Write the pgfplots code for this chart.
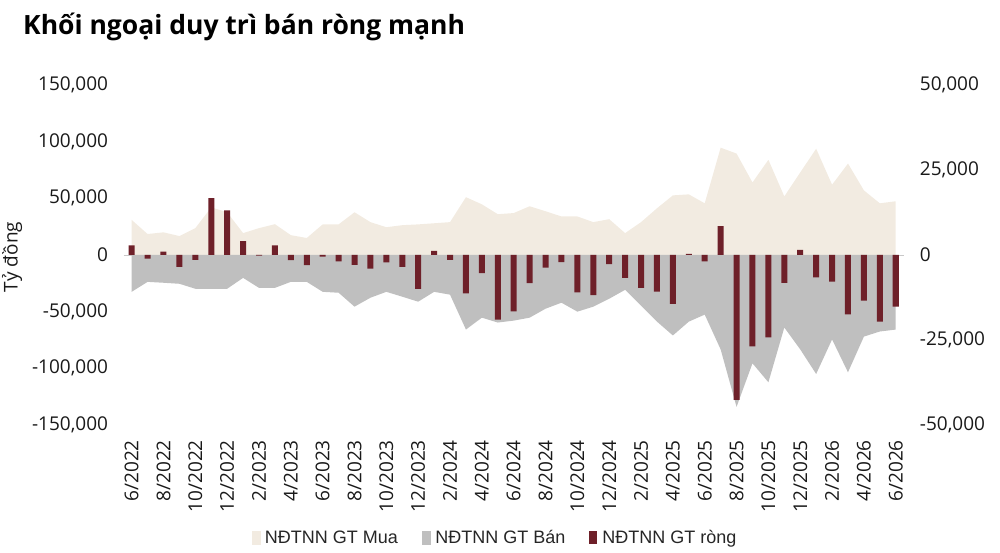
\documentclass[border=0pt]{standalone}
\usepackage{fontspec}
\setmainfont{Open Sans}
\newfontfamily\legfont{Liberation Sans}
\usepackage{pgfplots}
\pgfplotsset{compat=1.18}
\usepackage{pgfplotstable}
\definecolor{buy}{HTML}{F2EBE1}
\definecolor{sell}{HTML}{BFBFBF}
\definecolor{net}{HTML}{6E2029}
\definecolor{zl}{HTML}{C8C8C8}

\pgfplotstableread{
i buy sell net
0 31000 -32500 2800
1 18500 -23700 -1100
2 20000 -24500 1000
3 16700 -25400 -3500
4 23700 -29800 -1400
5 42000 -29800 16700
6 37700 -29800 13100
7 19300 -20200 4100
8 23700 -29000 -200
9 27200 -29000 2800
10 17500 -23700 -1500
11 15000 -23700 -3000
12 27000 -32500 -500
13 27000 -33300 -1900
14 37700 -45600 -2900
15 29000 -37700 -4000
16 24500 -32500 -2200
17 26300 -36800 -3500
18 27000 -41200 -10000
19 28000 -32500 1200
20 29000 -35000 -1400
21 51000 -65800 -11300
22 44700 -55300 -5300
23 36000 -59600 -19000
24 37000 -57900 -16600
25 43000 -55300 -8300
26 38600 -47400 -3700
27 34000 -42100 -2100
28 34000 -50000 -11000
29 29000 -45600 -11800
30 31600 -38600 -2700
31 19300 -30700 -6700
32 29000 -44700 -9700
33 41200 -58800 -10800
34 52600 -71000 -14400
35 53500 -58800 300
36 45600 -52600 -1900
37 94700 -83300 8500
38 89500 -134000 -42600
39 64000 -95600 -26900
40 84000 -112300 -24200
41 51700 -64000 -8200
42 72800 -83300 1500
43 93800 -105000 -6600
44 62000 -74500 -7800
45 80700 -103500 -17500
46 57000 -72000 -13400
47 45600 -67500 -19600
48 47400 -65800 -15200
}\data

\begin{document}
\begin{tikzpicture}[x=1pt,y=1pt]
\path[use as bounding box] (-123.7,-128) rectangle (876.3,425);
\begin{axis}[
  at={(0,0)}, anchor=south west, scale only axis,
  width=780pt, height=340pt,
  xmin=-0.5, xmax=48.5, ymin=-150000, ymax=150000,
  scaled ticks=false,
  axis line style={draw=none},
  major tick length=0pt,
  ytick={-150000,-100000,-50000,0,50000,100000,150000},
  yticklabels={{-150,000},{-100,000},{-50,000},0,{50,000},{100,000},{150,000}},
  yticklabel style={font=\fontsize{19}{22}\selectfont, inner sep=0pt, anchor=east, xshift=-15.5pt, text=black!90},
  xtick={0,2,...,48},
  xticklabels={6/2022,8/2022,10/2022,12/2022,2/2023,4/2023,6/2023,8/2023,10/2023,12/2023,2/2024,4/2024,6/2024,8/2024,10/2024,12/2024,2/2025,4/2025,6/2025,8/2025,10/2025,12/2025,2/2026,4/2026,6/2026},
  xticklabel style={font=\fontsize{19}{22}\selectfont, rotate=90, anchor=east, inner sep=0pt, text=black!90},
  xticklabel shift=15pt,
  axis y line*=left, axis x line*=bottom,
  extra y ticks={0}, extra y tick labels={},
  extra y tick style={grid=major, major grid style={zl, line width=0.8pt}},
  clip=false,
]
\addplot[fill=buy, draw=none] table[x=i,y=buy]{\data} \closedcycle;
\addplot[fill=sell, draw=none] table[x=i,y=sell]{\data} \closedcycle;
\end{axis}
\begin{axis}[
  at={(0,0)}, anchor=south west, scale only axis,
  width=780pt, height=340pt,
  xmin=-0.5, xmax=48.5, ymin=-50000, ymax=50000,
  scaled ticks=false,
  axis y line*=right, axis x line=none,
  axis line style={draw=none},
  major tick length=0pt,
  ytick={-50000,-25000,0,25000,50000},
  yticklabels={{-50,000},{-25,000},0,{25,000},{50,000}},
  yticklabel style={font=\fontsize{19}{22}\selectfont, inner sep=0pt, anchor=west, xshift=16pt, text=black!90},
  xtick=\empty,
  ybar, bar width=6pt,
  legend style={draw=none, fill=none, legend columns=3, at={(0.476,-0.332)}, anchor=center,
    font=\legfont\fontsize{18}{20}\selectfont, text=black!85,
    /tikz/every odd column/.append style={column sep=3pt},
    /tikz/every even column/.append style={column sep=22pt}},
  legend cell align=left,
]
\addlegendimage{legend image code/.code={\fill[buy] (0pt,-6.5pt) rectangle (8pt,6.5pt);}}
\addlegendentry{NĐTNN GT Mua}
\addlegendimage{legend image code/.code={\fill[sell] (0pt,-6.5pt) rectangle (8pt,6.5pt);}}
\addlegendentry{NĐTNN GT Bán}
\addplot[fill=net, draw=none, legend image code/.code={\fill[net] (0pt,-6.5pt) rectangle (8pt,6.5pt);}] table[x=i,y=net]{\data};
\addlegendentry{NĐTNN GT ròng}
\end{axis}
\node[anchor=base west, inner sep=0pt, font=\bfseries\fontsize{26.5}{30}\selectfont] at (-100.7,390) {Khối ngoại duy trì bán ròng mạnh};
\node[rotate=90, inner sep=0pt, font=\fontsize{19}{22}\selectfont, text=black!90] at (-111.7,168) {Tỷ đồng};
\end{tikzpicture}
\end{document}
